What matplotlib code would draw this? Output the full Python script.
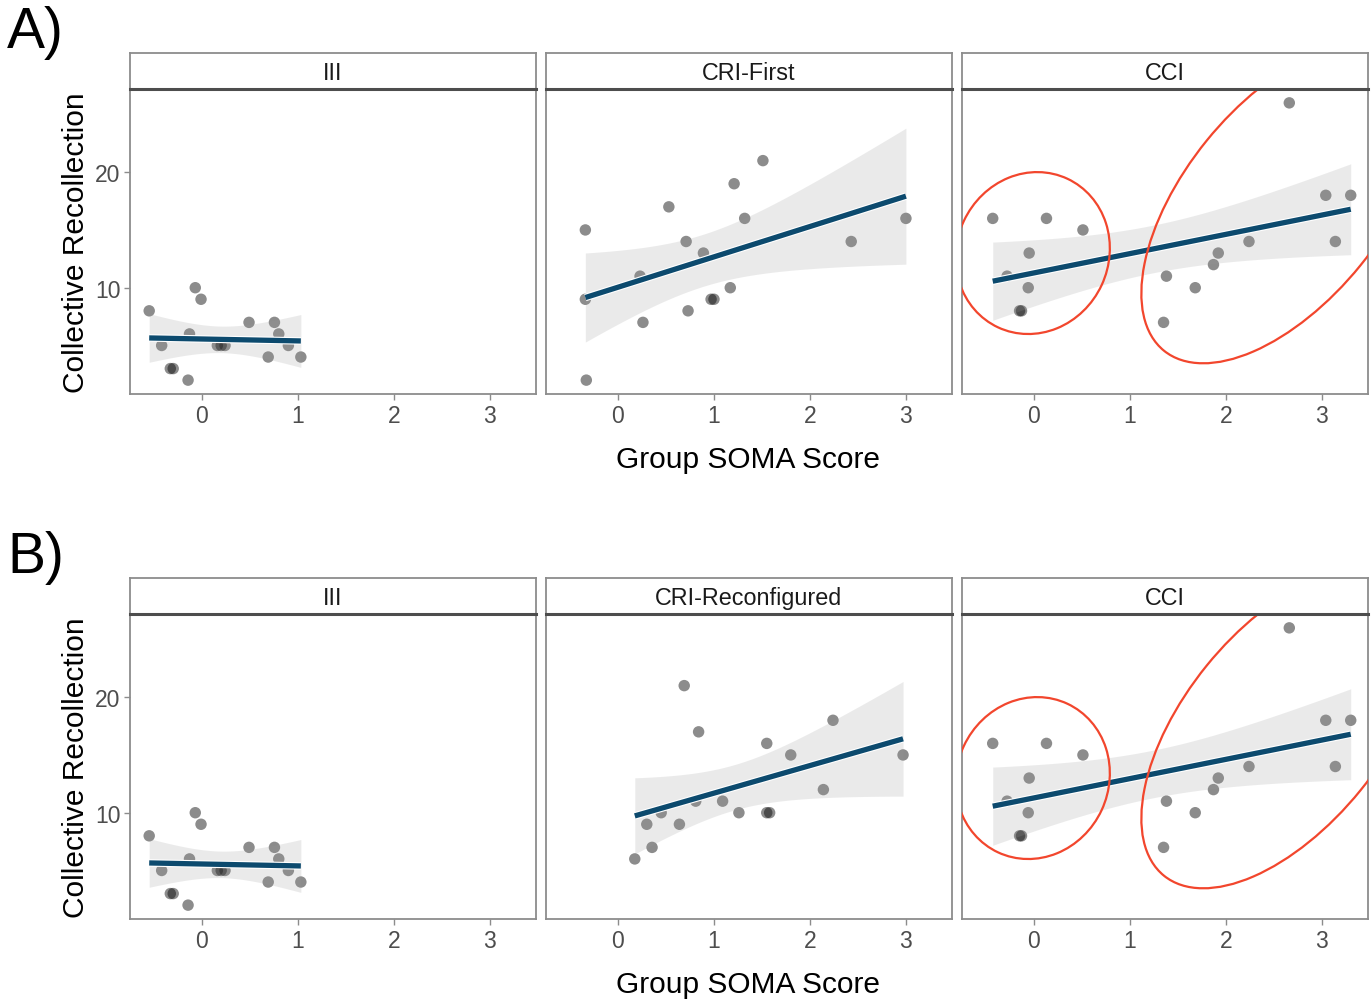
import numpy as np
import matplotlib
import matplotlib.pyplot as plt
import matplotlib.patheffects as pe
from matplotlib.patches import Ellipse
from matplotlib.transforms import ScaledTranslation

matplotlib.use('Agg')
plt.rcParams['font.family'] = ['Liberation Sans', 'DejaVu Sans']

# group SOMA score (x) vs collective recollection (y)
iii_x = [-0.55, -0.07, -0.01, 0.49, 0.755, 0.80, -0.13, -0.42, 0.16, 0.20,
         0.24, 0.90, 0.69, 1.03, -0.33, -0.30, -0.145]
iii_y = [8, 10, 9, 7, 7, 6, 6, 5, 5, 5, 5, 5, 4, 4, 3, 3, 2]

cri_first_x = [-0.34, -0.34, -0.33, 0.23, 0.26, 0.53, 0.71, 0.73, 0.89,
               0.97, 1.00, 1.17, 1.21, 1.32, 1.51, 2.43, 3.00]
cri_first_y = [15, 9, 2, 11, 7, 17, 14, 8, 13, 9, 9, 10, 19, 16, 21, 14, 16]

cri_reconf_x = [0.69, 0.84, 1.55, 1.80, 2.24, 2.97, 2.14, 1.09, 1.26, 1.55,
                1.58, 0.81, 0.45, 0.30, 0.64, 0.355, 0.175]
cri_reconf_y = [21, 17, 16, 15, 18, 15, 12, 11, 10, 10, 10, 11, 10, 9, 9, 7, 6]

cci_x = [-0.43, 0.13, 0.51, -0.05, -0.06, -0.15, -0.13, -0.28, 2.66, 3.04,
         3.30, 3.14, 2.24, 1.92, 1.87, 1.38, 1.68, 1.35]
cci_y = [16, 16, 15, 13, 10, 8, 8, 11, 26, 18, 18, 14, 14, 13, 12, 11, 10, 7]

rows = [
    ('A)', [('III', iii_x, iii_y), ('CRI-First', cri_first_x, cri_first_y),
            ('CCI', cci_x, cci_y)]),
    ('B)', [('III', iii_x, iii_y), ('CRI-Reconfigured', cri_reconf_x, cri_reconf_y),
            ('CCI', cci_x, cci_y)]),
]

W, H = 1372, 1003
panel_left = [130, 546, 962]
panel_w = 406
row_top = [90, 615]
panel_h = 305
strip_h = 36


def t_975(df):
    # Cornish-Fisher expansion of Student's t quantile
    z = 1.959964
    return (z + (z**3 + z) / (4 * df) + (5 * z**5 + 16 * z**3 + 3 * z) / (96 * df**2)
            + (3 * z**7 + 19 * z**5 + 17 * z**3 - 15 * z) / (384 * df**3))


def lm_band(x, y):
    x = np.asarray(x, float)
    y = np.asarray(y, float)
    n = len(x)
    slope, icpt = np.polyfit(x, y, 1)
    grid = np.linspace(x.min(), x.max(), 80)
    fit = icpt + slope * grid
    s = np.sqrt(np.sum((y - (icpt + slope * x)) ** 2) / (n - 2))
    sxx = np.sum((x - x.mean()) ** 2)
    se = s * np.sqrt(1 / n + (grid - x.mean()) ** 2 / sxx)
    t = t_975(n - 2)
    return grid, fit, fit - t * se, fit + t * se


def px_axes(fig, left, top, w, h):
    return fig.add_axes([left / W, 1 - (top + h) / H, w / W, h / H])


fig = plt.figure(figsize=(W / 100, H / 100), dpi=100)

for r, (tag, panels) in enumerate(rows):
    top = row_top[r]
    for c, (name, xs, ys) in enumerate(panels):
        ax = px_axes(fig, panel_left[c], top, panel_w, panel_h)
        ax.scatter(xs, ys, s=68, color='black', alpha=0.45, edgecolors='none', zorder=2)
        grid, fit, lo, hi = lm_band(xs, ys)
        ax.fill_between(grid, lo, hi, color='#999999', alpha=0.2, lw=0, zorder=3)
        ax.plot(grid, fit, color='#0c4a6e', lw=3.8, solid_capstyle='butt', zorder=4,
                path_effects=[pe.Stroke(linewidth=5.4, foreground='white'), pe.Normal()])
        ax.set_xlim(-0.75, 3.48)
        ax.set_ylim(0.8, 27.2)
        ax.set_xticks([0, 1, 2, 3])
        ax.set_yticks([10, 20])
        ax.tick_params(colors='#8c8c8c', labelcolor='#4d4d4d', labelsize=16.5,
                       length=4, width=1, pad=3)
        if c > 0:
            ax.set_yticklabels([])
            ax.tick_params(axis='y', length=0)
        for sp in ax.spines.values():
            sp.set_color('#8c8c8c')
            sp.set_linewidth(1.3)

        if name == 'CCI':
            # red circles marking the two clusters, sized in pixels
            e1 = Ellipse((0, 0), 152, 164, angle=-25, fill=False, ec='#f2462d', lw=1.6,
                         transform=ScaledTranslation(-0.013, 13.0, ax.transData), zorder=5)
            e2 = Ellipse((0, 0), 380, 198, angle=51, fill=False, ec='#f2462d', lw=1.6,
                         transform=ScaledTranslation(2.60, 17.33, ax.transData), zorder=5)
            ax.add_patch(e1)
            ax.add_patch(e2)

        sax = px_axes(fig, panel_left[c], top - strip_h, panel_w, strip_h)
        sax.set_xticks([])
        sax.set_yticks([])
        for sp in sax.spines.values():
            sp.set_color('#8c8c8c')
            sp.set_linewidth(1.3)
        sax.spines['bottom'].set_color('#4d4d4d')
        sax.spines['bottom'].set_linewidth(2.2)
        sax.text(0.5, 0.46, name, ha='center', va='center', fontsize=16.8,
                 color='#1a1a1a', transform=sax.transAxes)

    fig.text(748 / W, 1 - (top + 370) / H, 'Group SOMA Score', ha='center', va='center',
             fontsize=21.5)
    fig.text(76 / W, 1 - (top + 153) / H, 'Collective Recollection', ha='center',
             va='center', rotation=90, fontsize=21.5)
    fig.text(7 / W, 1 - (top - 57) / H, tag, ha='left', va='center', fontsize=41)

fig.savefig('out.png', dpi=100)
